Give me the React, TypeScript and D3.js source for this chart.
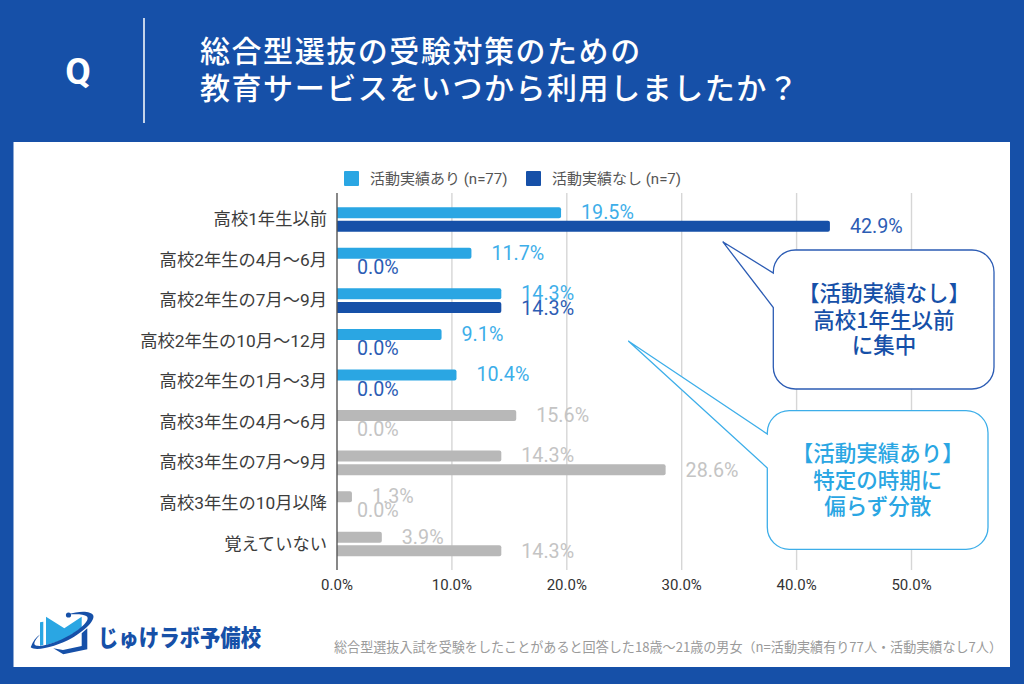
import React from "react";
import * as d3 from "d3";

const categories = [
  "高校1年生以前",
  "高校2年生の4月〜6月",
  "高校2年生の7月〜9月",
  "高校2年生の10月〜12月",
  "高校2年生の1月〜3月",
  "高校3年生の4月〜6月",
  "高校3年生の7月〜9月",
  "高校3年生の10月以降",
  "覚えていない",
];
const withRecord = [19.5, 11.7, 14.3, 9.1, 10.4, 15.6, 14.3, 1.3, 3.9];
const withoutRecord = [42.9, 0, 14.3, 0, 0, 0, 28.6, 0, 14.3];
const highlighted = [true, true, true, true, true, false, false, false, false];
const ticks = [0, 10, 20, 30, 40, 50];
const legendLabels = ["活動実績あり (n=77)", "活動実績なし (n=7)"];
const titleLines = ["総合型選抜の受験対策のための", "教育サービスをいつから利用しましたか？"];
const calloutDark = ["【活動実績なし】", "高校1年生以前", "に集中"];
const calloutLight = ["【活動実績あり】", "特定の時期に", "偏らず分散"];
const footnote = "総合型選抜入試を受験をしたことがあると回答した18歳〜21歳の男女（n=活動実績有り77人・活動実績なし7人）";
const brand = "じゅけラボ予備校";

const NAVY = "#1650A8";
const BLUE = "#2AA6E3";
const GRAY = "#B8B8B8";
const LABEL_BLUE = "#3DAEE9";
const LABEL_NAVY = "#2C5CB4";
const LABEL_GRAY = "#C4C4C4";
const JP = "'Noto Sans CJK JP', 'Noto Sans', sans-serif";
const LATIN = "Roboto, 'Noto Sans CJK JP', sans-serif";

const x = d3.scaleLinear().domain([0, 50]).range([337, 911.5]);
const y = d3.scaleBand<string>().domain(categories).range([199.2, 564.3]);
const BAR_H = 11;

function barPath(v: number, top: number) {
  const p = d3.path();
  const x0 = x(0);
  const x1 = x(v);
  const r = Math.min(2, x1 - x0);
  p.moveTo(x0, top);
  p.lineTo(x1 - r, top);
  p.quadraticCurveTo(x1, top, x1, top + r);
  p.lineTo(x1, top + BAR_H - r);
  p.quadraticCurveTo(x1, top + BAR_H, x1 - r, top + BAR_H);
  p.lineTo(x0, top + BAR_H);
  p.closePath();
  return p.toString();
}

function bubble(l: number, t: number, r: number, b: number, rad: number, ty0: number, tip: [number, number], ty1: number) {
  const p = d3.path();
  p.moveTo(l + rad, t);
  p.lineTo(r - rad, t);
  p.arcTo(r, t, r, t + rad, rad);
  p.lineTo(r, b - rad);
  p.arcTo(r, b, r - rad, b, rad);
  p.lineTo(l + rad, b);
  p.arcTo(l, b, l, b - rad, rad);
  p.lineTo(l, ty1);
  p.lineTo(tip[0], tip[1]);
  p.lineTo(l, ty0);
  p.lineTo(l, t + rad);
  p.arcTo(l, t, l + rad, t, rad);
  p.closePath();
  return p.toString();
}

function Logo() {
  return (
    <g>
      <path d="M40 622.3 L43.3 621.7 L43.3 645 L40 645.7 Z" fill={BLUE} />
      <path d="M46 616.7 L64.3 628.3 L81.7 616.7 L81.7 628 L63 640 L46 645 Z" fill={BLUE} />
      <path d="M53.3 648.3 L63.3 654.3 L87.3 649.3 L87.3 628.3 L81.7 633.3 L81.7 646 L63 650 Z" fill={NAVY} />
      <path d="M30.7 647.3 C33 641 36 637 40 634.5 C36 639 33 643 35 645 C40 648 56 643 70 635 C82 628 90 620 87 616.5 C84 614 76 614 68.3 614.5 C78 611 91 610.5 93.3 615.5 C95 621 84 631 72 638 C58 646 36 652 30.7 647.3 Z" fill={NAVY} />
      <circle cx="68.5" cy="615" r="2.6" fill={NAVY} />
      <text x="98" y="646" fontFamily={JP} fontWeight={900} fontSize={23} fill={NAVY} textLength={163} lengthAdjust="spacingAndGlyphs">{brand}</text>
    </g>
  );
}

export default function App() {
  return (
    <svg width={1024} height={684} viewBox="0 0 1024 684" style={{ position: "absolute", left: 0, top: 0, display: "block" }}>
      <rect width={1024} height={684} fill={NAVY} />
      <rect x={13.5} y={142} width={996.5} height={525} fill="#fff" />

      <text x={78} y={84} textAnchor="middle" fontFamily={LATIN} fontWeight={700} fontSize={37} fill="#fff">Q</text>
      <line x1={144} x2={144} y1={18} y2={123} stroke="#fff" strokeWidth={1.5} />
      {titleLines.map((t, i) => (
        <text key={t} x={200} y={62 + i * 37} fontFamily={JP} fontWeight={500} fontSize={30} letterSpacing={1.55} fill="#fff">{t}</text>
      ))}

      {legendLabels.map((t, i) => {
        const lx = [344, 526][i];
        return (
          <g key={t}>
            <rect x={lx} y={171} width={15} height={15} rx={1} fill={[BLUE, NAVY][i]} />
            <text x={lx + 26} y={183.5} fontFamily={LATIN} fontSize={15} fill="#555">{t}</text>
          </g>
        );
      })}

      {ticks.slice(1).map((t) => (
        <line key={t} x1={x(t)} x2={x(t)} y1={193} y2={570} stroke="#D6D6D6" strokeWidth={1.4} />
      ))}

      {categories.map((c, i) => {
        const cy = y(c)! + y.bandwidth() / 2;
        const on = highlighted[i];
        return (
          <g key={c}>
            <text x={327} y={cy + 5.5} textAnchor="end" fontFamily={LATIN} fontSize={17.3} fill="#3C3C3C">{c}</text>
            {withRecord[i] > 0 && <path d={barPath(withRecord[i], cy - 12.3)} fill={on ? BLUE : GRAY} />}
            {withoutRecord[i] > 0 && <path d={barPath(withoutRecord[i], cy + 1.3)} fill={on ? NAVY : GRAY} />}
            <text x={x(withRecord[i]) + 20} y={cy - 0.4} fontFamily={LATIN} fontSize={19.7} fill={on ? LABEL_BLUE : LABEL_GRAY}>{withRecord[i].toFixed(1)}%</text>
            <text x={x(withoutRecord[i]) + 20} y={cy + 14} fontFamily={LATIN} fontSize={19.7} fill={on ? LABEL_NAVY : LABEL_GRAY}>{withoutRecord[i].toFixed(1)}%</text>
          </g>
        );
      })}

      <line x1={x(0)} x2={x(0)} y1={193} y2={570} stroke="#555" strokeWidth={1.4} />

      {ticks.map((t) => (
        <text key={t} x={x(t)} y={590} textAnchor="middle" fontFamily={LATIN} fontSize={15} fill="#333">{t.toFixed(1)}%</text>
      ))}

      <path d={bubble(773.3, 250, 994, 389, 22, 273, [722.7, 241.7], 307.5)} fill="#fff" stroke="#2C5CB4" strokeWidth={1.3} />
      {calloutDark.map((t, i) => (
        <text key={t} x={884} y={[300.5, 327.5, 352.5][i]} textAnchor="middle" fontFamily={JP} fontWeight={500} fontSize={21.5} fill={NAVY}>{t}</text>
      ))}
      <path d={bubble(767.3, 410.7, 988, 549.3, 22, 434, [628.3, 341], 468)} fill="#fff" stroke={LABEL_BLUE} strokeWidth={1.3} />
      {calloutLight.map((t, i) => (
        <text key={t} x={877.7} y={[460.5, 487.5, 513.5][i]} textAnchor="middle" fontFamily={JP} fontWeight={500} fontSize={21.5} fill={BLUE}>{t}</text>
      ))}

      <Logo />
      <text x={334} y={652} fontFamily={JP} fontSize={13.2} fill="#9A9A9A" textLength={668} lengthAdjust="spacingAndGlyphs">{footnote}</text>
    </svg>
  );
}
